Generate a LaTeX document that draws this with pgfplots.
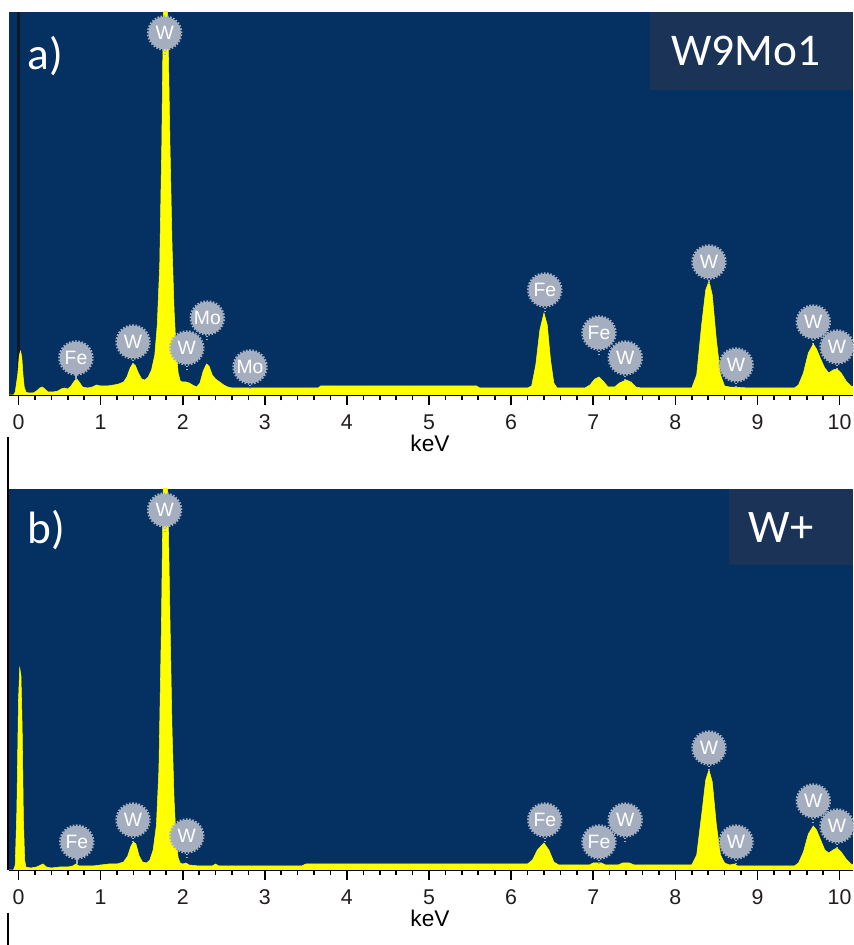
\documentclass[border=0pt]{standalone}
\usepackage{pgfplots}
\pgfplotsset{compat=1.18}
\usepackage{fontspec}
\setmainfont{Liberation Sans}
\newfontfamily\calibri{Carlito}
\definecolor{bgblue}{RGB}{5,48,98}
\definecolor{boxblue}{RGB}{26,51,87}
\definecolor{pincol}{RGB}{165,174,190}
\definecolor{spec}{RGB}{255,255,0}
\definecolor{tickcol}{RGB}{35,30,30}
\definecolor{zeroline}{RGB}{20,24,32}

\pgfdeclareplotmark{pin}{%
  \pgfsetlinewidth{1.6pt}%
  \pgfpathmoveto{\pgfpoint{0pt}{-11pt}}%
  \pgfpathlineto{\pgfpoint{0pt}{-16.5pt}}%
  \pgfusepathqstroke
  \pgfpathcircle{\pgfpointorigin}{12.2pt}%
  \pgfusepathqfill
  \pgfsetlinewidth{1.4pt}%
  \pgfsetdash{{1.2pt}{1.2pt}}{0pt}%
  \pgfpathcircle{\pgfpointorigin}{12.6pt}%
  \pgfusepathqstroke
}

\pgfplotsset{
  eds/.style={
    scale only axis, width=633pt,
    xmin=-0.1157, xmax=10.164, ymin=0,
    axis background/.style={fill=bgblue},
    axis x line*=bottom, axis y line=none, ytick=\empty,
    x axis line style={black, line width=1.6pt},
    xtick={0,1,...,10}, minor x tick num=4,
    tick align=outside, major tick length=7.5pt, minor tick length=4pt,
    tick style={black, line width=1.2pt},
    /pgf/number format/assume math mode=true,
    xticklabel style={font=\fontsize{16}{16}\selectfont, text=tickcol, anchor=base, inner sep=1.5pt, yshift=-18.75pt},
  },
  pins/.style={
    only marks, mark=pin, mark options={draw=pincol, fill=pincol, solid},
    point meta=explicit symbolic, nodes near coords,
    nodes near coords align={anchor=center},
    every node near coord/.append style={font=\fontsize{14.5}{14.5}\selectfont, text=white, inner sep=0pt},
  },
}

\begin{document}
\begin{tikzpicture}
\useasboundingbox (0pt,0pt) rectangle (639.75pt,708.75pt);
\fill[white] (0pt,0pt) rectangle (639.75pt,708.75pt);

% ---------- panel a ----------
\begin{axis}[eds, at={(6.75pt,412.5pt)}, anchor=south west, height=287.25pt, ymax=383]
\addplot[draw=zeroline, line width=1.6pt] coordinates {(0,0) (0,383)};
\addplot[fill=spec, draw=spec, line width=0.4pt] coordinates {
(-0.12,0) (-0.06,0) (-0.04,3) (-0.01,20) (0.01,40) (0.025,44) (0.04,38) (0.055,20) (0.07,8) (0.09,3)
(0.12,2) (0.18,2) (0.22,4) (0.26,7) (0.29,8) (0.32,6) (0.36,3) (0.42,3) (0.48,4) (0.52,6) (0.56,7)
(0.6,6) (0.64,9) (0.68,14) (0.71,16) (0.74,13) (0.78,8) (0.84,7) (0.9,8) (0.95,10) (1.0,9) (1.08,9)
(1.16,10) (1.22,11) (1.28,13) (1.32,18) (1.36,27) (1.39,31) (1.42,30) (1.46,22) (1.5,16) (1.54,15)
(1.58,18) (1.62,25) (1.66,40) (1.69,70) (1.72,130) (1.745,250) (1.765,390) (1.785,460) (1.805,420)
(1.82,370) (1.845,250) (1.87,150) (1.895,85) (1.92,45) (1.945,22) (1.97,14) (2.0,13) (2.04,13)
(2.08,12) (2.12,10) (2.17,8) (2.21,12) (2.25,24) (2.29,31) (2.32,29) (2.36,20) (2.4,16) (2.45,13)
(2.5,10) (2.55,8) (2.6,7) (3.65,7) (3.68,9) (5.58,9) (5.62,7) (6.2,7) (6.25,9) (6.3,30) (6.35,65)
(6.4,82) (6.44,70) (6.48,35) (6.52,12) (6.56,7) (6.9,7) (6.96,10) (7.02,16) (7.07,18) (7.12,14)
(7.18,8) (7.26,8) (7.32,12) (7.4,15) (7.46,13) (7.52,8) (7.58,7) (8.2,7) (8.26,20) (8.32,70)
(8.37,105) (8.41,114) (8.45,100) (8.5,55) (8.55,20) (8.6,9) (8.66,8) (8.9,7) (9.45,7) (9.5,10)
(9.56,22) (9.62,42) (9.68,51) (9.72,46) (9.77,36) (9.82,27) (9.87,22) (9.92,25) (9.97,26)
(10.02,22) (10.08,14) (10.14,9) (10.2,7)
} \closedcycle;
\addplot[pins] coordinates {
(0.70,37) [Fe] (1.395,53) [W] (1.78,362) [W] (2.05,47) [W] (2.30,77) [Mo] (2.82,28) [Mo]
(6.41,105) [Fe] (7.07,62) [Fe] (7.39,37) [W] (8.41,133) [W] (8.74,30) [W] (9.68,73) [W] (9.97,48) [W]
};
\end{axis}

% ---------- panel b ----------
\begin{axis}[eds, at={(6.75pt,56.25pt)}, anchor=south west, height=285.75pt, ymax=381]
\addplot[fill=spec, draw=spec, line width=0.4pt] coordinates {
(-0.12,0) (-0.06,0) (-0.04,5) (-0.02,60) (0.0,170) (0.015,202) (0.03,195) (0.045,140) (0.06,50)
(0.075,10) (0.09,3) (0.15,2) (0.22,3) (0.27,5) (0.3,6) (0.34,3) (0.4,2) (0.5,3) (0.6,3) (0.66,4)
(0.7,6) (0.74,4) (0.8,4) (0.9,4) (1.0,5) (1.1,6) (1.2,6) (1.28,8) (1.33,14) (1.37,24) (1.4,28)
(1.43,26) (1.47,14) (1.51,8) (1.56,7) (1.6,10) (1.64,20) (1.68,45) (1.71,100) (1.74,240) (1.76,370)
(1.785,450) (1.805,420) (1.82,370) (1.845,250) (1.87,140) (1.895,70) (1.92,30) (1.945,12) (1.97,7)
(2.0,6) (2.04,7) (2.08,5) (2.2,4) (2.36,4) (2.4,6) (2.44,4) (3.45,4) (3.5,6) (6.2,6) (6.26,10)
(6.32,20) (6.4,27) (6.46,20) (6.52,8) (6.58,5) (6.95,5) (7.0,7) (7.1,7) (7.15,5) (7.3,5) (7.36,7)
(7.44,7) (7.5,5) (8.2,5) (8.26,15) (8.32,55) (8.37,90) (8.41,100) (8.45,88) (8.5,45) (8.55,15)
(8.6,7) (8.66,5) (8.72,6) (8.76,4) (9.45,4) (9.5,7) (9.56,18) (9.62,36) (9.68,44) (9.72,40)
(9.77,30) (9.82,20) (9.87,17) (9.92,20) (9.97,22) (10.02,18) (10.08,11) (10.14,6) (10.2,4)
} \closedcycle;
\addplot[pins] coordinates {
(0.71,28) [Fe] (1.395,50) [W] (1.78,360) [W] (2.05,34) [W]
(6.41,50) [Fe] (7.07,28) [Fe] (7.39,50) [W] (8.41,122) [W] (8.74,28) [W] (9.68,69) [W] (9.97,44) [W]
};
\end{axis}

% ---------- overlays ----------
\node[font=\fontsize{17}{17}\selectfont, inner sep=0pt] at (322.5pt,376.5pt) {keV};
\node[font=\fontsize{17}{17}\selectfont, inner sep=0pt] at (322.5pt,19.9pt) {keV};
\fill[boxblue] (487.5pt,641.25pt) rectangle (639.75pt,699.75pt);
\node[text=white, font=\calibri\fontsize{34}{34}\selectfont, inner sep=0pt] at (559.5pt,670.5pt) {W9Mo1};
\fill[boxblue] (546.75pt,285pt) rectangle (639.75pt,342pt);
\node[text=white, font=\calibri\fontsize{35}{35}\selectfont, inner sep=0pt] at (585.75pt,312.75pt) {W+};
\node[text=white, font=\calibri\fontsize{34}{34}\selectfont, inner sep=0pt] at (34pt,666.75pt) {a)};
\node[text=white, font=\calibri\fontsize{34}{34}\selectfont, inner sep=0pt] at (34.5pt,311.25pt) {b)};
\draw[black, line width=1.5pt] (6pt,381pt) -- (6pt,56.25pt);
\draw[black, line width=1.5pt] (6pt,24pt) -- (6pt,0pt);
\end{tikzpicture}
\end{document}
